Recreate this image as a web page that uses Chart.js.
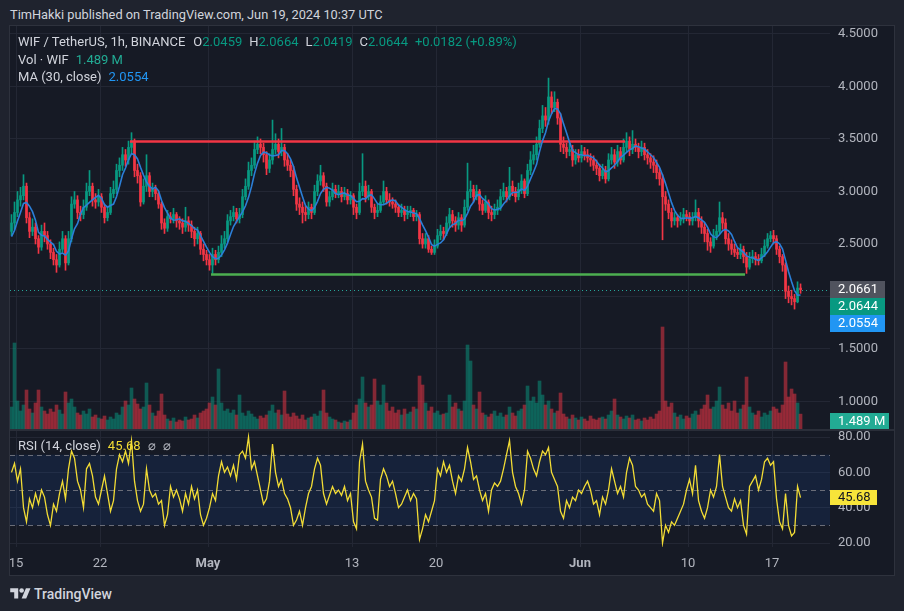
<!DOCTYPE html>
<html>
<head>
<meta charset="utf-8">
<script src="https://cdn.jsdelivr.net/npm/chart.js@4.4.1/dist/chart.umd.min.js"></script>
<style>
  body { margin: 0; width: 904px; height: 611px; overflow: hidden; background: #1f232e; position: relative;
         font-family: Roboto, "Noto Sans", sans-serif; color: #d1d4dc; }
  #title { position: absolute; left: 10px; top: 7px; font-size: 12.8px; white-space: nowrap; }
  #frame { position: absolute; left: 9px; top: 25px; width: 884px; height: 549px; border: 1px solid #2e323d; background: #161a25; }
  canvas { position: absolute; }
  #sep { position: absolute; left: 10px; top: 429px; width: 884px; height: 2px; background: #2a2e39; }
  .legend { position: absolute; left: 18px; font-size: 13px; white-space: nowrap; }
  .legend span { margin-left: 7px; }
  .up { color: #089981; }
  #footer { position: absolute; left: 10px; top: 586px; font-size: 14px; font-weight: 500; color: #d1d4dc; }
  #footer svg { vertical-align: -3px; margin-right: 3px; }
</style>
</head>
<body>
<div id="title">TimHakki published on TradingView.com, Jun 19, 2024 10:37 UTC</div>
<div id="frame"></div>
<canvas id="main" width="884" height="403" style="left:10px;top:26px"></canvas>
<div id="sep"></div>
<canvas id="rsi" width="884" height="145" style="left:10px;top:431px"></canvas>

<div class="legend" style="top:34px">WIF / TetherUS, 1h, BINANCE<span style="margin-left:8px">O<b class="up" style="font-weight:400">2.0459</b></span><span>H<b class="up" style="font-weight:400">2.0664</b></span><span>L<b class="up" style="font-weight:400">2.0419</b></span><span>C<b class="up" style="font-weight:400">2.0644</b></span><span class="up">+0.0182 (+0.89%)</span></div>
<div class="legend" style="top:52px">Vol · WIF<span style="color:#22ab94">1.489 M</span></div>
<div class="legend" style="top:69px">MA (30, close)<span style="color:#2196f3">2.0554</span></div>
<div class="legend" style="top:438px">RSI (14, close)<span style="color:#f2dc35">45.68</span><span style="color:#b2b5be">⌀</span><span style="color:#b2b5be">⌀</span></div>

<div id="footer"><svg width="21" height="16" viewBox="0 0 36 28"><path fill="#d1d4dc" d="M14 22H7V11H0V4h14v18zM28 22h-8l7.5-18h8L28 22z"/><circle fill="#d1d4dc" cx="20" cy="8" r="4"/></svg>TradingView</div>

<script>
// --- DATA (6h candles) ---
const firstCandleDay = -0.375;   // days after Apr 15 00:00
const candleStepDays = 0.25;

const priorCloses = [2.50, 2.48, 2.55, 2.62];

const closes = [
  2.70,2.80,2.92,2.96,3.05,2.75,2.62,2.66,2.55,2.47,
  2.62,2.58,2.50,2.42,2.35,2.30,2.45,2.55,2.32,2.55,
  2.88,2.92,2.80,2.78,2.85,3.00,3.05,2.92,2.90,2.95,
  2.85,2.75,2.80,2.98,3.02,3.20,3.25,3.35,3.30,3.42,
  3.48,3.20,3.15,2.90,3.05,3.15,3.00,3.02,2.98,2.88,
  2.70,2.65,2.76,2.74,2.78,2.72,2.70,2.66,2.72,2.68,
  2.62,2.55,2.60,2.45,2.40,2.35,2.30,2.40,2.35,2.42,
  2.50,2.55,2.72,2.76,2.80,2.74,2.78,2.95,3.05,3.20,
  3.25,3.40,3.45,3.42,3.35,3.22,3.30,3.40,3.45,3.38,
  3.42,3.30,3.25,3.20,3.02,2.88,2.85,2.80,2.78,2.85,
  2.80,3.00,3.10,3.15,3.05,2.90,2.95,3.02,2.98,3.00,
  2.95,2.98,2.92,2.96,2.85,2.80,3.00,3.05,2.95,3.00,
  2.85,2.80,2.82,2.90,3.00,2.92,2.90,2.88,2.85,2.80,
  2.82,2.78,2.80,2.82,2.76,2.78,2.55,2.50,2.55,2.45,
  2.42,2.48,2.58,2.62,2.60,2.70,2.78,2.72,2.68,2.75,
  2.68,2.85,3.00,3.02,2.95,3.00,2.88,2.82,2.90,2.80,
  2.78,2.82,2.85,2.95,3.00,2.95,3.05,3.00,2.95,3.02,
  3.10,2.98,3.20,3.30,3.35,3.45,3.60,3.72,3.68,3.90,
  3.80,3.85,3.70,3.45,3.42,3.38,3.40,3.30,3.35,3.32,
  3.38,3.35,3.32,3.30,3.25,3.22,3.15,3.20,3.12,3.30,
  3.35,3.28,3.38,3.30,3.42,3.48,3.40,3.45,3.42,3.38,
  3.42,3.35,3.32,3.28,3.25,3.18,3.12,2.95,2.88,2.80,
  2.72,2.75,2.72,2.74,2.78,2.76,2.72,2.75,2.80,2.72,
  2.66,2.60,2.52,2.48,2.58,2.62,2.75,2.70,2.55,2.50,
  2.45,2.42,2.40,2.45,2.38,2.28,2.36,2.38,2.36,2.34,
  2.40,2.48,2.55,2.58,2.55,2.45,2.38,2.30,2.05,2.00,
  1.98,1.95,2.08,2.0644
];

const highs = [
  2.78,2.90,3.00,3.04,3.16,3.08,2.80,2.74,2.70,2.58,
  2.68,2.70,2.62,2.54,2.46,2.40,2.52,2.62,2.58,2.62,
  2.95,3.00,2.96,2.86,2.92,3.08,3.20,3.08,2.98,3.02,
  2.98,2.88,2.86,3.04,3.10,3.26,3.32,3.42,3.40,3.48,
  3.56,3.50,3.26,3.18,3.12,3.35,3.18,3.08,3.06,3.00,
  2.90,2.74,2.82,2.80,2.84,2.80,2.76,2.74,2.85,2.76,
  2.72,2.66,2.66,2.62,2.50,2.44,2.40,2.46,2.44,2.48,
  2.58,2.62,2.78,2.82,2.86,2.84,2.84,3.02,3.12,3.28,
  3.32,3.48,3.52,3.50,3.46,3.38,3.36,3.68,3.55,3.50,
  3.60,3.45,3.36,3.30,3.24,3.06,2.94,2.90,2.86,2.90,
  2.88,3.06,3.16,3.25,3.18,3.08,3.00,3.08,3.06,3.06,
  3.04,3.04,3.02,3.00,2.98,2.88,3.08,3.36,3.10,3.06,
  3.02,2.88,2.88,2.96,3.10,3.04,2.98,2.94,2.92,2.88,
  2.88,2.86,2.86,2.86,2.84,2.82,2.80,2.60,2.60,2.58,
  2.48,2.54,2.64,2.68,2.66,2.76,2.84,2.82,2.76,2.80,
  2.78,2.92,3.27,3.10,3.06,3.06,3.02,2.92,2.96,2.92,
  2.86,2.88,2.92,3.02,3.08,3.04,3.23,3.10,3.04,3.08,
  3.16,3.12,3.26,3.38,3.44,3.52,3.68,3.82,3.80,4.08,
  3.95,3.95,3.88,3.74,3.52,3.46,3.46,3.44,3.40,3.40,
  3.44,3.42,3.40,3.36,3.34,3.30,3.26,3.26,3.24,3.36,
  3.42,3.40,3.44,3.42,3.50,3.56,3.52,3.58,3.50,3.46,
  3.48,3.46,3.40,3.36,3.34,3.30,3.22,3.16,3.00,2.92,
  2.84,2.80,2.78,2.80,2.84,2.82,2.80,2.80,2.92,2.84,
  2.76,2.70,2.64,2.56,2.64,2.68,2.90,2.80,2.74,2.60,
  2.54,2.50,2.46,2.50,2.48,2.42,2.42,2.44,2.42,2.40,
  2.46,2.54,2.60,2.62,2.63,2.58,2.48,2.40,2.32,2.10,
  2.06,2.02,2.14,2.12
];

const lows = [
  2.58,2.64,2.76,2.86,2.92,2.70,2.56,2.58,2.50,2.41,
  2.44,2.52,2.45,2.36,2.30,2.23,2.28,2.42,2.25,2.30,
  2.52,2.84,2.74,2.72,2.74,2.82,2.96,2.86,2.84,2.86,
  2.80,2.70,2.72,2.78,2.94,2.98,3.14,3.20,3.24,3.26,
  3.36,3.14,3.08,2.86,2.88,3.00,2.95,2.95,2.92,2.84,
  2.64,2.60,2.62,2.70,2.70,2.66,2.64,2.60,2.62,2.62,
  2.56,2.48,2.50,2.40,2.34,2.30,2.25,2.22,2.30,2.32,
  2.38,2.46,2.52,2.68,2.72,2.70,2.70,2.75,2.92,3.02,
  3.15,3.22,3.36,3.36,3.28,3.16,3.18,3.26,3.36,3.32,
  3.34,3.24,3.20,3.14,2.96,2.82,2.78,2.70,2.72,2.74,
  2.74,2.78,2.96,3.06,3.00,2.86,2.86,2.92,2.94,2.94,
  2.90,2.92,2.88,2.88,2.78,2.74,2.78,2.96,2.90,2.92,
  2.80,2.74,2.76,2.80,2.88,2.88,2.86,2.84,2.80,2.76,
  2.76,2.72,2.74,2.76,2.72,2.72,2.50,2.46,2.46,2.42,
  2.40,2.40,2.46,2.54,2.54,2.58,2.66,2.66,2.62,2.64,
  2.62,2.66,2.82,2.94,2.90,2.92,2.82,2.78,2.80,2.74,
  2.72,2.74,2.78,2.82,2.92,2.90,2.92,2.96,2.90,2.92,
  2.98,2.94,2.96,3.16,3.26,3.30,3.42,3.56,3.62,3.64,
  3.74,3.76,3.64,3.38,3.36,3.32,3.34,3.24,3.26,3.28,
  3.28,3.30,3.28,3.24,3.20,3.16,3.10,3.12,3.08,3.10,
  3.26,3.22,3.24,3.26,3.28,3.38,3.34,3.36,3.38,3.32,
  3.34,3.30,3.26,3.22,3.18,3.12,3.06,2.54,2.82,2.74,
  2.66,2.68,2.66,2.68,2.70,2.72,2.68,2.68,2.72,2.66,
  2.60,2.52,2.44,2.42,2.46,2.54,2.60,2.64,2.50,2.44,
  2.40,2.38,2.36,2.36,2.32,2.22,2.26,2.32,2.30,2.30,
  2.32,2.38,2.46,2.52,2.50,2.40,2.32,2.24,1.98,1.94,
  1.92,1.88,1.94,2.03
];

// volume, millions
const volumes = [
  2.2,8.6,2.8,1.8,2.4,3.9,2.0,1.6,2.6,3.9,
  2.2,1.8,1.5,2.0,1.7,2.4,1.9,1.5,3.7,2.6,
  3.0,2.2,1.6,1.4,1.8,1.5,2.0,1.2,1.4,1.1,
  1.0,1.3,0.9,1.2,1.0,1.6,1.4,2.2,2.8,2.4,
  4.1,3.0,2.5,2.0,2.2,4.6,2.4,1.6,1.3,1.8,
  3.5,1.4,1.0,0.8,1.1,0.7,0.9,0.8,1.2,0.9,
  1.0,1.4,1.1,1.6,1.8,2.0,2.6,3.2,2.4,6.0,
  2.6,1.8,2.0,1.6,1.9,1.4,3.4,1.6,1.3,1.8,
  1.5,1.2,1.0,1.3,1.1,1.4,1.8,2.4,1.6,1.9,
  1.4,3.8,1.5,1.2,1.6,1.3,1.0,1.4,0.9,1.1,
  1.2,1.5,1.3,1.8,3.9,1.6,1.2,1.0,0.9,0.7,
  0.6,0.8,0.7,0.9,1.6,2.4,3.0,5.2,2.6,2.2,
  2.4,5.0,2.8,2.4,4.4,2.6,1.8,2.2,1.6,1.9,
  1.4,2.0,1.5,1.7,2.2,2.0,5.3,4.4,2.6,1.8,
  2.2,1.6,1.8,1.4,1.5,1.6,3.4,2.2,2.6,2.0,
  1.8,2.8,8.4,6.8,2.4,2.0,3.7,1.6,1.4,1.2,
  1.5,1.8,1.3,1.6,1.2,1.4,2.2,1.6,1.3,1.8,
  2.0,2.4,4.3,2.8,3.2,2.6,4.8,3.4,2.4,2.8,
  2.0,1.6,1.8,3.6,1.5,1.2,1.0,1.4,1.1,0.9,
  1.2,1.0,0.8,1.3,1.0,0.9,1.1,1.2,1.0,1.4,
  1.8,3.0,1.4,1.2,1.0,1.3,1.1,1.4,0.9,1.0,
  0.8,1.1,0.9,1.2,1.0,1.5,1.8,10.2,2.8,2.2,
  2.6,1.6,1.2,1.4,1.0,1.3,1.1,1.5,1.8,1.4,
  2.0,2.4,3.4,2.0,2.2,2.8,4.2,2.4,2.0,2.6,
  1.8,2.8,1.6,2.0,2.4,5.2,2.2,1.6,1.4,1.8,
  1.2,1.6,1.4,1.8,2.2,2.0,1.6,2.4,6.7,3.2,
  4.0,3.5,2.6,1.489
];

const rsiValues = [
  60,65,55,62,40,32,45,40,48,42,
  50,46,36,30,42,38,48,55,45,62,
  72,68,55,50,40,62,65,58,46,42,
  50,58,48,38,44,62,70,66,72,65,
  78,55,44,38,42,62,50,46,48,42,
  44,30,36,52,46,50,45,38,48,42,
  52,45,50,36,30,34,40,48,44,58,
  66,60,63,58,64,56,70,72,68,80,
  62,66,58,50,42,45,55,76,60,52,
  56,48,45,40,30,33,38,30,40,48,
  52,62,68,64,48,42,47,52,48,50,
  47,52,44,48,32,28,66,76,55,50,
  46,34,33,56,62,58,52,55,48,40,
  42,46,50,44,48,45,22,28,36,32,
  38,44,62,58,66,60,64,55,48,58,
  55,62,74,66,56,58,50,44,48,38,
  50,54,52,55,62,70,78,60,52,48,
  42,50,72,68,62,58,66,72,70,74,
  60,56,52,38,34,44,40,46,44,50,
  48,52,55,50,42,44,36,46,42,50,
  62,55,48,52,46,60,68,64,52,50,
  46,48,42,40,38,48,44,20,30,26,
  32,30,34,38,42,50,56,48,64,44,
  38,34,40,50,46,52,70,52,46,40,
  38,45,40,44,30,25,52,55,58,50,
  56,66,68,64,66,45,32,28,48,30,
  24,26,52,45.68
];

const priceTicks = [1.0, 1.5, 2.0, 2.5, 3.0, 3.5, 4.0, 4.5];
const rsiTicks = [20, 40, 60, 80];
const rsiBandLevels = [70, 50, 30];
const dateTickDays = [0, 7, 16, 28, 35, 47, 56, 63];
const dateTickLabels = ['15', '22', 'May', '13', '20', 'Jun', '10', '17'];
const boldDateLabels = ['May', 'Jun'];

const resistanceLevel = 3.476;
const resistanceSpan = [9.5, 50.75];
const supportLevel = 2.21;
const supportSpan = [16.25, 60.75];

const markPrice = 2.0661;
const lastClose = 2.0644;
const lastMa = 2.0554;
const lastVolumeLabel = '1.489 M';
const lastRsi = 45.68;

// --- derived series ---
const times = closes.map((c, i) => firstCandleDay + i * candleStepDays);
const opens = closes.map((c, i) => i === 0 ? priorCloses[priorCloses.length - 1] : closes[i - 1]);
const allCloses = priorCloses.concat(closes);
const maSeries = closes.map((c, i) => {
    const win = allCloses.slice(i, i + 5); // 5 x 6h = 30h
    return win.reduce((a, b) => a + b, 0) / win.length;
});

const UP = '#089981', DOWN = '#f23645';
const UP_VOL = 'rgba(8,153,129,0.5)', DOWN_VOL = 'rgba(242,54,69,0.5)';
const GRID = '#232734';
const AXIS_TEXT = '#b2b5be';
const FONT = 'Roboto, "Noto Sans", sans-serif';
const X_MIN = -0.5, X_MAX = 67.83;

const candleColors = closes.map((c, i) => c >= opens[i] ? UP : DOWN);
const volColors = closes.map((c, i) => c >= opens[i] ? UP_VOL : DOWN_VOL);

function labelBox(ctx, x, yMid, w, h, bg, text, fg) {
    ctx.fillStyle = bg;
    ctx.fillRect(x, Math.round(yMid - h / 2), w, h);
    ctx.fillStyle = fg;
    ctx.font = '13px ' + FONT;
    ctx.textBaseline = 'middle';
    ctx.textAlign = 'left';
    ctx.fillText(text, x + 8, yMid + 0.5);
}

// --- MAIN PANE ---
const mainOverlay = {
    id: 'mainOverlay',
    beforeDatasetsDraw(chart) {
        const { ctx, chartArea } = chart;
        const y = chart.scales.y.getPixelForValue(markPrice);
        ctx.save();
        ctx.strokeStyle = '#26a69a';
        ctx.lineWidth = 1;
        ctx.setLineDash([1, 3]);
        ctx.beginPath();
        ctx.moveTo(chartArea.left, Math.round(y) + 0.5);
        ctx.lineTo(chartArea.right, Math.round(y) + 0.5);
        ctx.stroke();
        ctx.restore();
    },
    afterDraw(chart) {
        const { ctx, chartArea } = chart;
        const x = chartArea.right;
        const y0 = chart.scales.y.getPixelForValue(markPrice);
        ctx.save();
        labelBox(ctx, x, y0, 55, 17, '#50535e', markPrice.toFixed(4), '#ffffff');
        labelBox(ctx, x, y0 + 17, 55, 17, UP, lastClose.toFixed(4), '#ffffff');
        labelBox(ctx, x, y0 + 34, 55, 17, '#2196f3', lastMa.toFixed(4), '#ffffff');
        labelBox(ctx, x, chartArea.bottom - 8, 59, 17, '#22ab94', lastVolumeLabel, '#ffffff');
        ctx.restore();
    }
};

new Chart(document.getElementById('main'), {
    data: {
        datasets: [
            {
                type: 'line', order: 0, yAxisID: 'y',
                data: maSeries.map((v, i) => ({ x: times[i], y: v })),
                borderColor: '#2b7fd8', borderWidth: 1.6, pointRadius: 0, tension: 0
            },
            {
                type: 'line', order: 1, yAxisID: 'y',
                data: resistanceSpan.map(d => ({ x: d, y: resistanceLevel })),
                borderColor: '#f23645', borderWidth: 2.5, pointRadius: 0
            },
            {
                type: 'line', order: 1, yAxisID: 'y',
                data: supportSpan.map(d => ({ x: d, y: supportLevel })),
                borderColor: '#4caf50', borderWidth: 2.5, pointRadius: 0
            },
            {
                type: 'bar', order: 2, yAxisID: 'y', grouped: false,
                data: closes.map((c, i) => ({ x: times[i], y: [Math.min(c, opens[i]), Math.max(c, opens[i])] })),
                backgroundColor: candleColors, barThickness: 2
            },
            {
                type: 'bar', order: 3, yAxisID: 'y', grouped: false,
                data: closes.map((c, i) => ({ x: times[i], y: [lows[i], highs[i]] })),
                backgroundColor: candleColors, barThickness: 1
            },
            {
                type: 'bar', order: 4, yAxisID: 'vol', grouped: false,
                data: volumes.map((v, i) => ({ x: times[i], y: v })),
                backgroundColor: volColors, barThickness: 3
            }
        ]
    },
    options: {
        responsive: false,
        animation: false,
        layout: { padding: 0 },
        plugins: { legend: { display: false }, tooltip: { enabled: false } },
        scales: {
            x: {
                type: 'linear', min: X_MIN, max: X_MAX, offset: false,
                afterBuildTicks: s => { s.ticks = dateTickDays.map(v => ({ value: v })); },
                ticks: { display: false },
                grid: { color: GRID, drawTicks: false, offset: false },
                border: { display: false },
                afterFit: s => { s.height = 0; s.paddingLeft = 0; s.paddingRight = 0; }
            },
            y: {
                position: 'right', min: 0.738, max: 4.576,
                afterBuildTicks: s => { s.ticks = priceTicks.map(v => ({ value: v })); },
                ticks: { color: AXIS_TEXT, font: { size: 13, family: FONT }, padding: 8, callback: v => v.toFixed(4) },
                grid: { color: GRID, drawTicks: false },
                border: { display: false },
                afterFit: s => { s.width = 64; s.paddingTop = 0; s.paddingBottom = 0; }
            },
            vol: { display: false, min: 0, max: 40.3 }
        }
    },
    plugins: [mainOverlay]
});

// --- RSI PANE ---
const rsiOverlay = {
    id: 'rsiOverlay',
    beforeDatasetsDraw(chart) {
        const { ctx, chartArea } = chart;
        const ys = chart.scales.y;
        const top = ys.getPixelForValue(rsiBandLevels[0]);
        const bot = ys.getPixelForValue(rsiBandLevels[2]);
        ctx.save();
        ctx.fillStyle = 'rgba(33,110,243,0.10)';
        ctx.fillRect(chartArea.left, top, chartArea.right - chartArea.left, bot - top);
        ctx.strokeStyle = '#6a6d78';
        ctx.lineWidth = 1;
        ctx.setLineDash([5, 4]);
        rsiBandLevels.forEach(level => {
            const y = Math.round(ys.getPixelForValue(level)) + 0.5;
            ctx.beginPath();
            ctx.moveTo(chartArea.left, y);
            ctx.lineTo(chartArea.right, y);
            ctx.stroke();
        });
        ctx.restore();
    },
    afterDraw(chart) {
        const { ctx, chartArea } = chart;
        const y = chart.scales.y.getPixelForValue(lastRsi);
        ctx.save();
        labelBox(ctx, chartArea.right, y, 47, 15, '#f7e43a', lastRsi.toFixed(2), '#131722');
        ctx.restore();
    }
};

new Chart(document.getElementById('rsi'), {
    type: 'line',
    data: {
        datasets: [{
            data: rsiValues.map((v, i) => ({ x: times[i], y: v })),
            borderColor: '#f2dc35', borderWidth: 1.3, pointRadius: 0, tension: 0
        }]
    },
    options: {
        responsive: false,
        animation: false,
        layout: { padding: 0 },
        plugins: { legend: { display: false }, tooltip: { enabled: false } },
        scales: {
            x: {
                type: 'linear', min: X_MIN, max: X_MAX,
                afterBuildTicks: s => { s.ticks = dateTickDays.map(v => ({ value: v })); },
                ticks: {
                    color: AXIS_TEXT, padding: 9, maxRotation: 0, autoSkip: false,
                    font: ctx => ({
                        size: 13, family: FONT,
                        weight: (ctx.tick && boldDateLabels.includes(ctx.tick.label)) ? 'bold' : 'normal'
                    }),
                    callback: v => dateTickLabels[dateTickDays.indexOf(v)]
                },
                grid: { color: GRID, drawTicks: false },
                border: { display: false },
                afterFit: s => { s.height = 29; s.paddingLeft = 0; s.paddingRight = 0; }
            },
            y: {
                position: 'right', min: 17.74, max: 83.40,
                afterBuildTicks: s => { s.ticks = rsiTicks.map(v => ({ value: v })); },
                ticks: { color: AXIS_TEXT, font: { size: 13, family: FONT }, padding: 8, callback: v => v.toFixed(2) },
                grid: { color: GRID, drawTicks: false },
                border: { display: false },
                afterFit: s => { s.width = 64; s.paddingTop = 0; s.paddingBottom = 0; }
            }
        }
    },
    plugins: [rsiOverlay]
});
</script>
</body>
</html>
